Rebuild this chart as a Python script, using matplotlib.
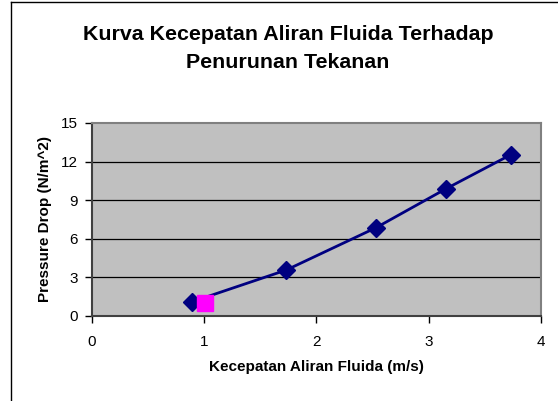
import matplotlib
matplotlib.use("Agg")
import matplotlib.pyplot as plt
from matplotlib.lines import Line2D

plt.rcParams['font.family'] = ['Liberation Sans', 'DejaVu Sans']

# data
kecepatan = [0.89, 1.73, 2.53, 3.15, 3.73]
pressure_drop = [1.1, 3.57, 6.86, 9.87, 12.53]
titik_pilih_x = [1.01]
titik_pilih_y = [1.0]
x_ticks = [0, 1, 2, 3, 4]
y_ticks = [0, 3, 6, 9, 12, 15]
judul = ['Kurva Kecepatan Aliran Fluida Terhadap', 'Penurunan Tekanan']

fig = plt.figure(figsize=(5.58, 4.01), dpi=100)
ax = fig.add_axes([0.1649, 0.2120, 0.8046, 0.4813])
ax.set_facecolor('#C0C0C0')

for y in y_ticks[1:-1]:
    ax.axhline(y, color='black', linewidth=0.9, zorder=1)

ax.plot(kecepatan, pressure_drop, color='#000080', linewidth=2,
        marker='D', markersize=9.5, markerfacecolor='#000080',
        markeredgecolor='#000080', zorder=3)
ax.plot(titik_pilih_x, titik_pilih_y, linestyle='none', marker='s',
        markersize=12, color='#FF00FF', zorder=4)

ax.set_xlim(0, 4)
ax.set_ylim(0, 15)
ax.set_xticks(x_ticks)
ax.set_yticks(y_ticks)
ax.tick_params(direction='out', length=5, width=1, labelsize=11)
ax.tick_params(axis='x', pad=9)
ax.tick_params(axis='y', pad=5)

for s in ['top', 'right']:
    ax.spines[s].set_color('#808080')
    ax.spines[s].set_linewidth(1.5)
for s in ['left', 'bottom']:
    ax.spines[s].set_color('#404040')
    ax.spines[s].set_linewidth(1.5)

ax.set_xlabel('Kecepatan Aliran Fluida (m/s)', fontsize=11, fontweight='bold')
ax.set_ylabel('Pressure Drop (N/m^2)', fontsize=11, fontweight='bold')
ax.xaxis.set_label_coords(0.5, -0.264)
ax.yaxis.set_label_coords(-0.1047, 0.5)
ax.xaxis.label.set_va('center')
ax.yaxis.label.set_va('center')

# title, two lines
fig.text(0.516, 1 - 35 / 401, judul[0], ha='center', va='center',
         fontsize=15.4, fontweight='bold')
fig.text(0.516, 1 - 62 / 401, judul[1], ha='center', va='center',
         fontsize=15.4, fontweight='bold')

# chart area frame (left and top edges visible)
fig.add_artist(Line2D([11 / 558, 11 / 558], [0, 1 - 2 / 401], color='black', linewidth=1))
fig.add_artist(Line2D([11 / 558, 1], [1 - 2 / 401, 1 - 2 / 401], color='black', linewidth=1))

fig.savefig('out.png', dpi=100)
